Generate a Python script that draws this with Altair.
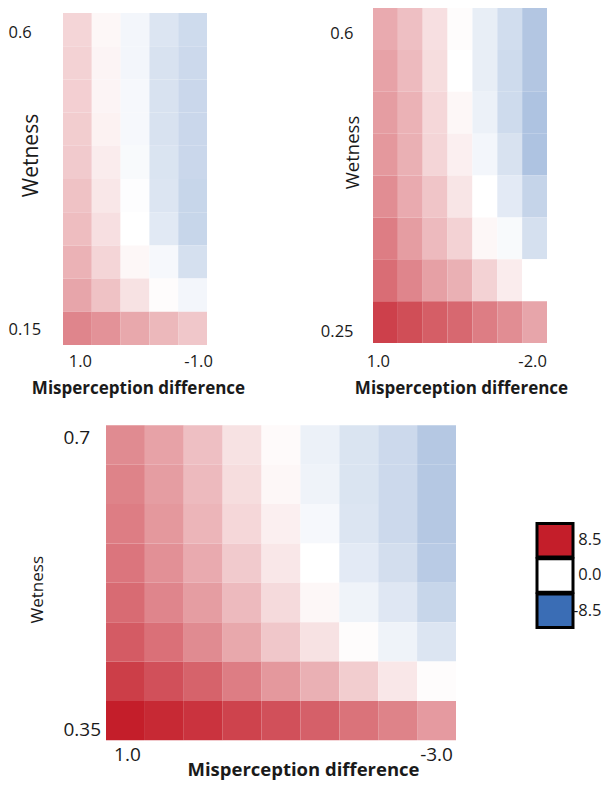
import altair as alt
import pandas as pd

FONT = "Open Sans"
INK = "#1a1a1a"

# ---------------- data ----------------
P1_X = ["1.0", "0.5", "0.0", "-0.5", "-1.0"]
P1_Y = ["0.6", "0.55", "0.5", "0.45", "0.4", "0.35", "0.3", "0.25", "0.2", "0.15"]
P1_V = [
    [1.6, 0.3, -0.5, -1.5, -2.1],
    [1.7, 0.4, -0.5, -1.7, -2.2],
    [1.8, 0.4, -0.4, -1.7, -2.3],
    [1.9, 0.5, -0.4, -1.7, -2.3],
    [2.0, 0.7, -0.3, -1.6, -2.3],
    [2.3, 0.9, -0.1, -1.5, -2.4],
    [2.5, 1.2, 0.0, -1.3, -2.4],
    [2.9, 1.6, 0.3, -0.4, -1.8],
    [3.4, 2.3, 1.1, 0.1, -0.5],
    [4.6, 4.1, 3.3, 2.7, 2.1],
]

P2_X = ["1.0", "0.5", "0.0", "-0.5", "-1.0", "-1.5", "-2.0"]
P2_Y = ["0.6", "0.55", "0.5", "0.45", "0.4", "0.35", "0.3", "0.25"]
P2_V = [
    [3.2, 2.4, 1.2, 0.1, -1.0, -2.0, -3.3],
    [3.5, 2.6, 1.3, 0.0, -1.0, -2.1, -3.3],
    [3.7, 2.9, 1.5, 0.3, -0.8, -2.1, -3.5],
    [3.9, 3.0, 1.6, 0.6, -0.5, -1.7, -3.5],
    [4.3, 3.2, 2.2, 1.0, 0.0, -1.2, -2.5],
    [4.9, 3.7, 2.6, 1.7, 0.3, -0.3, -1.8],
    [5.5, 4.6, 3.6, 3.0, 1.7, 0.7, 0.0],
    [7.2, 6.7, 6.1, 5.7, 4.9, 4.3, 3.4],
]

P3_X = ["1.0", "0.5", "0.0", "-0.5", "-1.0", "-1.5", "-2.0", "-2.5", "-3.0"]
P3_Y = ["0.7", "0.65", "0.6", "0.55", "0.5", "0.45", "0.4", "0.35"]
P3_V = [
    [4.4, 3.5, 2.4, 1.1, 0.2, -0.8, -1.6, -2.2, -3.2],
    [4.7, 3.7, 2.6, 1.3, 0.3, -0.7, -1.6, -2.2, -3.2],
    [4.9, 3.9, 2.8, 1.5, 0.6, -0.4, -1.5, -2.2, -3.2],
    [5.2, 4.2, 3.2, 2.0, 0.9, 0.0, -1.2, -1.9, -3.0],
    [5.6, 4.6, 3.7, 2.6, 1.4, 0.3, -0.7, -1.4, -2.4],
    [6.2, 5.4, 4.4, 3.3, 2.1, 1.1, 0.1, -0.7, -1.5],
    [7.3, 6.6, 5.9, 4.9, 3.9, 3.0, 1.9, 0.9, 0.1],
    [8.5, 8.1, 7.7, 7.1, 6.6, 6.0, 5.3, 4.7, 3.8],
]

LEG_LABELS = ["8.5", "0.0", "-8.5"]
LEG_VALUES = [8.5, 0.0, -8.5]

X_TITLE = "Misperception difference"
Y_TITLE = "Wetness"


def tidy(xs, ys, vals):
    rows = []
    for i, y in enumerate(ys):
        for j, x in enumerate(xs):
            rows.append({"x": x, "y": y, "v": vals[i][j]})
    return pd.DataFrame(rows)


COLOR_SCALE = alt.Scale(domain=[-8.5, 0, 8.5],
                        range=["#3a6db5", "#ffffff", "#c41e2a"],
                        interpolate="rgb")


def off(first, a, b):
    return {"condition": {"test": f"datum.value === '{first}'", "value": a}, "value": b}


def band(pad_outer, align=0.5, pad_inner=0):
    return alt.Scale(paddingInner=pad_inner, paddingOuter=pad_outer, align=align)


def panel(xs, ys, vals, w, h, xsc, ysc, xaxis, yaxis):
    return alt.Chart(tidy(xs, ys, vals)).mark_rect().encode(
        x=alt.X("x:O", sort=xs, scale=xsc, axis=xaxis),
        y=alt.Y("y:O", sort=ys, scale=ysc, axis=yaxis),
        color=alt.Color("v:Q", scale=COLOR_SCALE, legend=None),
    ).properties(width=w, height=h)


def xaxis(xs, fs, pad, tfs, tx, ty, loff):
    return alt.Axis(values=[xs[0], xs[-1]], labelAngle=0, labelFontSize=fs, labelFont=FONT,
                    labelColor=INK, labelPadding=pad, ticks=False, tickSize=0, domain=False,
                    labelOffset=off(xs[0], loff[0], loff[1]),
                    title=X_TITLE, titleFont=FONT, titleFontSize=tfs, titleFontWeight="bold",
                    titleColor=INK, titleX=tx, titleY=ty, titleAlign="center",
                    titleBaseline="alphabetic", titleAngle=0)


def yaxis(ys, fs, align, pad, tfs, tx, ty, loff):
    return alt.Axis(values=[ys[0], ys[-1]], labelFontSize=fs, labelFont=FONT, labelColor=INK,
                    labelAlign=align, labelBaseline="middle", labelPadding=pad, ticks=False,
                    tickSize=0, domain=False,
                    labelOffset=off(ys[0], loff[0], loff[1]),
                    title=Y_TITLE, titleFont=FONT, titleFontSize=tfs, titleFontWeight="normal",
                    titleColor=INK, titleX=tx, titleY=ty, titleAlign="center",
                    titleBaseline="bottom", titleAngle=270)


p1 = panel(P1_X, P1_Y, P1_V, 144, 337,
           band(0),
           band(0.0753, 1),
           xaxis(P1_X, 16.5, 8, 17, 75, 48, (3, 6)),
           yaxis(P1_Y, 16.5, "left", 55, 21, -22, 147, (3, 2)))

p2 = panel(P2_X, P2_Y, P2_V, 174, 335,
           band(0),
           band(0),
           xaxis(P2_X, 16.5, 10, 17, 88, 50, (-7, -2)),
           yaxis(P2_Y, 16.5, "right", 20, 18.5, -11, 144, (5, 10)))

p3 = panel(P3_X, P3_Y, P3_V, 393, 315,
           band(0.553, 1),
           band(0),
           xaxis(P3_X, 19, 5, 18.5, 240, 35, (2, 0)),
           yaxis(P3_Y, 19, "left", 0, 17, -17, 164, (-7, 9)))

leg_df = pd.DataFrame({"label": LEG_LABELS, "v": LEG_VALUES})
leg = alt.Chart(leg_df).mark_rect(stroke="black", strokeWidth=3).encode(
    y=alt.Y("label:N", sort=LEG_LABELS,
            scale=band(1, 0.124, 0.05),
            axis=alt.Axis(orient="right", title=None, ticks=False, tickSize=0, domain=False,
                          labelAlign="right", labelBaseline="middle", labelPadding=28,
                          labelFontSize=16.5, labelFont=FONT, labelColor=INK)),
    color=alt.Color("v:Q", scale=COLOR_SCALE, legend=None),
).properties(width=36, height=174.5)

row1 = alt.hconcat(p1, p2, spacing=75)
row2 = alt.hconcat(p3, leg, spacing=79, center=True)

chart = alt.vconcat(row1, row2, spacing=29).properties(
    padding={"left": 0, "top": 0, "right": 0, "bottom": 2},
    background="white",
).configure_view(stroke=None)

chart.save("out.html", embed_options={"renderer": "svg", "actions": False})
